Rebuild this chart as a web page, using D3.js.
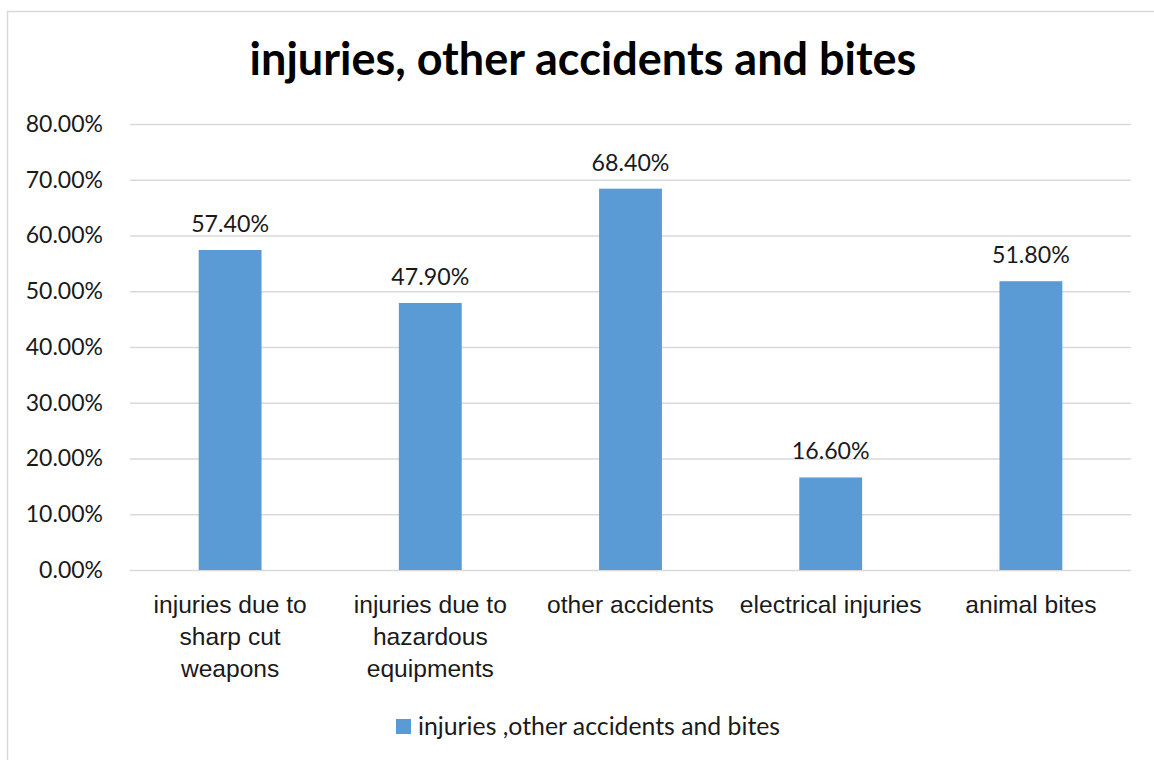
<!DOCTYPE html>
<html>
<head>
<meta charset="utf-8">
<script src="https://cdn.jsdelivr.net/npm/d3@7"></script>
<style>
  html, body { margin: 0; padding: 0; background: #ffffff; }
  svg { display: block; font-family: Lato, "Open Sans", sans-serif; }
</style>
</head>
<body>
<svg id="chart" width="1154" height="760"></svg>
<script>
// Chart data
const categories = [
  ["injuries due to", "sharp cut", "weapons"],
  ["injuries due to", "hazardous", "equipments"],
  ["other accidents"],
  ["electrical injuries"],
  ["animal bites"]
];
const values = [57.4, 47.9, 68.4, 16.6, 51.8];
const yTicks = [0, 10, 20, 30, 40, 50, 60, 70, 80];
const chartTitle = "injuries, other accidents and bites";
const seriesName = "injuries ,other accidents and bites";

const barColor = "#5B9BD5";
const gridColor = "#D9D9D9";
const textColor = "#1a1a1a";

const svg = d3.select("#chart");

// Outer chart frame
svg.append("rect")
  .attr("x", 7.5).attr("y", 11.5)
  .attr("width", 1160).attr("height", 760)
  .attr("fill", "none")
  .attr("stroke", "#D9D9D9")
  .attr("stroke-width", 1.5);

const plot = { left: 130, right: 1131, top: 124, bottom: 570 };

const x = d3.scaleBand()
  .domain(d3.range(categories.length))
  .range([plot.left, plot.right])
  .paddingInner(0.686)
  .paddingOuter(0.343);

const y = d3.scaleLinear()
  .domain([0, 80])
  .range([plot.bottom, plot.top]);

// Gridlines and y-axis labels
const yAxis = d3.axisLeft(y)
  .tickValues(yTicks)
  .tickSize(-(plot.right - plot.left))
  .tickPadding(27)
  .tickFormat(d => d.toFixed(2) + "%");

const gy = svg.append("g")
  .attr("transform", `translate(${plot.left},0)`)
  .call(yAxis);
gy.select(".domain").remove();
gy.selectAll(".tick line")
  .attr("stroke", gridColor)
  .attr("stroke-width", 1.5);
gy.selectAll(".tick text")
  .attr("fill", textColor)
  .attr("font-size", 23)
  .attr("font-family", "Lato, sans-serif");

// Bars
svg.append("g")
  .selectAll("rect")
  .data(values)
  .join("rect")
  .attr("x", (d, i) => x(i))
  .attr("y", d => y(d))
  .attr("width", x.bandwidth())
  .attr("height", d => y(0) - y(d))
  .attr("fill", barColor);

// Value labels
svg.append("g")
  .selectAll("text")
  .data(values)
  .join("text")
  .attr("x", (d, i) => x(i) + x.bandwidth() / 2)
  .attr("y", d => y(d) - 18)
  .attr("text-anchor", "middle")
  .attr("font-size", 23.2)
  .attr("fill", textColor)
  .text(d => d.toFixed(2) + "%");

// Category labels (wrapped lines)
const xAxis = d3.axisBottom(x).tickSize(0).tickFormat("");
const gx = svg.append("g")
  .attr("transform", `translate(0,${plot.bottom})`)
  .call(xAxis);
gx.select(".domain").remove();
gx.selectAll(".tick").each(function(i) {
  const t = d3.select(this).append("text")
    .attr("text-anchor", "middle")
    .attr("fill", textColor)
    .attr("font-size", 24.6);
  categories[i].forEach((line, k) => {
    t.append("tspan")
      .attr("x", 0)
      .attr("y", 43 + k * 32)
      .text(line);
  });
});

// Title
svg.append("text")
  .attr("x", 583)
  .attr("y", 75)
  .attr("text-anchor", "middle")
  .attr("font-size", 45)
  .attr("font-weight", "bold")
  .attr("fill", "#000")
  .text(chartTitle);

// Legend
const legend = svg.append("g").attr("transform", "translate(396,719)");
legend.append("rect")
  .attr("width", 15).attr("height", 15)
  .attr("fill", barColor);
legend.append("text")
  .attr("x", 22)
  .attr("y", 16)
  .attr("font-size", 24.8)
  .attr("fill", textColor)
  .text(seriesName);
</script>
</body>
</html>
